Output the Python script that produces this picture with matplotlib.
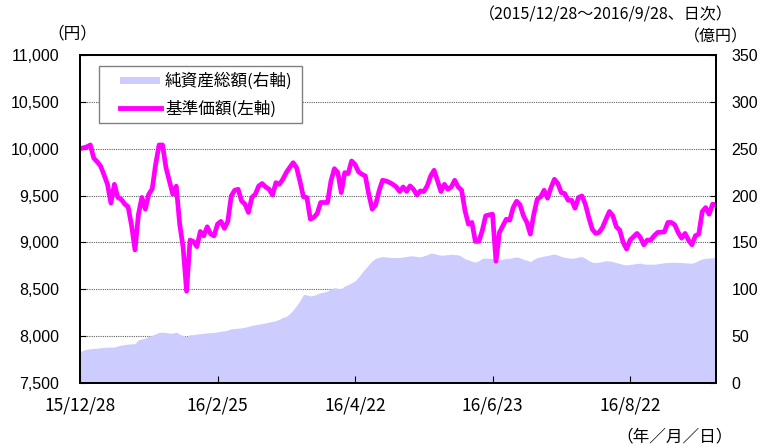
import matplotlib.pyplot as plt
from matplotlib.patches import Rectangle
from matplotlib.lines import Line2D

plt.rcParams['font.family'] = ['Noto Sans CJK JP', 'DejaVu Sans']

# 基準価額 (円), daily, 2015/12/28 - 2016/9/28
nav = [10000, 10010, 10020, 10040, 9900, 9860, 9815, 9720, 9620, 9420,
       9620, 9480, 9460, 9410, 9380, 9180, 8920, 9300, 9480, 9355,
       9515, 9570, 9833, 10040, 10040, 9800, 9655, 9515, 9600, 9195,
       8945, 8480, 9025, 9010, 8955, 9117, 9070, 9167, 9090, 9070,
       9195, 9225, 9150, 9225, 9496, 9557, 9567, 9443, 9408, 9320,
       9480, 9515, 9603, 9628, 9592, 9567, 9507, 9638, 9620, 9674,
       9745, 9800, 9851, 9798, 9650, 9486, 9479, 9248, 9266, 9309,
       9426, 9426, 9426, 9656, 9787, 9745, 9532, 9745, 9734, 9869,
       9833, 9755, 9727, 9709, 9514, 9355, 9401, 9550, 9663, 9656,
       9640, 9620, 9592, 9543, 9592, 9545, 9603, 9567, 9507, 9550,
       9543, 9603, 9709, 9770, 9656, 9543, 9620, 9567, 9592, 9663,
       9592, 9557, 9337, 9195, 9213, 9011, 9011, 9124, 9284, 9294,
       9301, 8800, 9106, 9177, 9248, 9237, 9372, 9440, 9400, 9284,
       9213, 9089, 9301, 9461, 9486, 9557, 9472, 9585, 9674, 9628,
       9532, 9521, 9450, 9450, 9365, 9479, 9496, 9408, 9266, 9142,
       9096, 9107, 9160, 9248, 9330, 9284, 9167, 9131, 9000, 8929,
       9025, 9060, 9096, 9053, 8975, 9025, 9025, 9071, 9106, 9110,
       9113, 9213, 9213, 9188, 9106, 9046, 9096, 9025, 8975, 9071,
       9089, 9330, 9372, 9301, 9408, 9401]

# 純資産総額 (億円)
assets = [33.5, 35, 36, 36.5, 37, 37.2, 37.5, 38, 38.3, 38.3,
          38.5, 39.5, 40.5, 41, 41.5, 41.8, 42, 46, 47, 48,
          49.5, 51, 52.5, 54, 54.3, 53.8, 53.3, 53.2, 54.3, 52,
          50.5, 49.6, 51.5, 51.5, 52.3, 52.5, 53, 53.5, 53.6, 54,
          54.5, 55.3, 55.5, 56.5, 57.8, 58, 58.5, 58.9, 59.5, 60.5,
          61.5, 62.1, 62.8, 63.5, 64.2, 64.9, 65.8, 66.6, 68, 70,
          71, 74, 78, 82.7, 88, 94.6, 94, 92.9, 93.5, 95,
          96.4, 97, 98.2, 100, 101.8, 101, 100.7, 103.6, 105, 107,
          108.9, 113, 117.9, 122, 126.5, 130.4, 133, 134, 135, 134.5,
          134, 133.9, 134, 133.9, 134.5, 135, 135.7, 135.5, 135, 134.6,
          135.7, 137, 138.6, 138.2, 137, 136.4, 136.6, 137, 137.5, 137,
          136.8, 135, 132.5, 131.3, 130, 129, 130.5, 132.9, 133.2, 133,
          132.9, 130.5, 131.5, 132.1, 133, 133.2, 133.8, 134.6, 133.5, 132,
          131, 129.6, 132, 133.8, 134.6, 135.5, 136, 137, 137.5, 136.5,
          135, 134, 133.5, 133.1, 133.5, 134.5, 134.9, 133, 130.5, 129,
          128.5, 129, 129.8, 130.5, 130.3, 129.5, 128.5, 127.5, 126.5, 126,
          126.5, 127, 127.5, 127.9, 127, 126.8, 126.8, 126.8, 127.2, 127.8,
          128.3, 128.6, 128.8, 128.8, 128.6, 128.5, 128.2, 128, 127.8, 129,
          131, 132.4, 133, 133.3, 133.6, 133.9]

tick_pos = [0, 40, 80, 120, 160]
tick_labels = ['15/12/28', '16/2/25', '16/4/22', '16/6/23', '16/8/22']
left_ticks = [7500, 8000, 8500, 9000, 9500, 10000, 10500, 11000]
right_ticks = [0, 50, 100, 150, 200, 250, 300, 350]

W, H = 758, 448
def fx(px):
    return px / W
def fy(py):
    return 1 - py / H

fig = plt.figure(figsize=(W / 100, H / 100), dpi=100)
ax = fig.add_axes([fx(80), fy(383), fx(716) - fx(80), fy(55) - fy(383)])
ax2 = ax.twinx()

x = list(range(len(nav)))
ax2.fill_between(x, assets, 0, color='#CCCCFF', lw=0)
ax2.set_ylim(0, 350)
ax2.set_yticks(right_ticks)
ax2.grid(axis='y', ls=(0, (1, 1)), color='#606060', lw=0.8)
ax2.set_axisbelow(True)
ax2.tick_params(axis='y', direction='in', length=4, pad=11, labelsize=11.5)
for t in ax2.get_yticklabels():
    t.set_fontfamily('Liberation Sans')

ax.plot(x, nav, color='#FF00FF', lw=3.4, solid_joinstyle='round')
ax.set_ylim(7500, 11000)
ax.set_yticks(left_ticks)
ax.set_yticklabels([f'{v:,}' for v in left_ticks], family='Liberation Sans')
ax.set_xlim(0, len(nav) - 1)
ax.set_xticks(tick_pos)
ax.set_xticklabels(tick_labels)
ax.tick_params(axis='y', direction='in', length=4, pad=15, labelsize=11.5)
ax.tick_params(axis='x', direction='in', length=5, pad=10, labelsize=12.5)
ax.set_zorder(ax2.get_zorder() + 1)
ax.patch.set_visible(False)
for a in (ax, ax2):
    for s in a.spines.values():
        s.set_linewidth(1.3)

# legend box
fig.add_artist(Rectangle((fx(99), fy(123)), fx(302) - fx(99), fy(66) - fy(123),
                         transform=fig.transFigure, facecolor='white',
                         edgecolor='#808080', lw=1, zorder=5))
fig.add_artist(Rectangle((fx(120), fy(84)), fx(160) - fx(120), fy(77) - fy(84),
                         transform=fig.transFigure, facecolor='#CCCCFF',
                         lw=0, zorder=6))
fig.add_artist(Line2D([fx(120), fx(161)], [fy(108.5), fy(108.5)],
                      transform=fig.transFigure, color='#FF00FF', lw=3.5, zorder=6))
fig.text(fx(165), fy(81), '純資産総額(右軸)', fontsize=12, va='center', zorder=7)
fig.text(fx(165), fy(109.5), '基準価額(左軸)', fontsize=12, va='center', zorder=7)

fig.text(fx(72.5), fy(34), '（円）', fontsize=12, ha='center', va='center')
fig.text(fx(733), fy(15), '（2015/12/28～2016/9/28、日次）', fontsize=11.5,
         ha='right', va='center')
fig.text(fx(716), fy(37), '（億円）', fontsize=11.5, ha='center', va='center')
fig.text(fx(675), fy(437), '（年／月／日）', fontsize=12, ha='center', va='center')

fig.savefig('out.png', dpi=100)
